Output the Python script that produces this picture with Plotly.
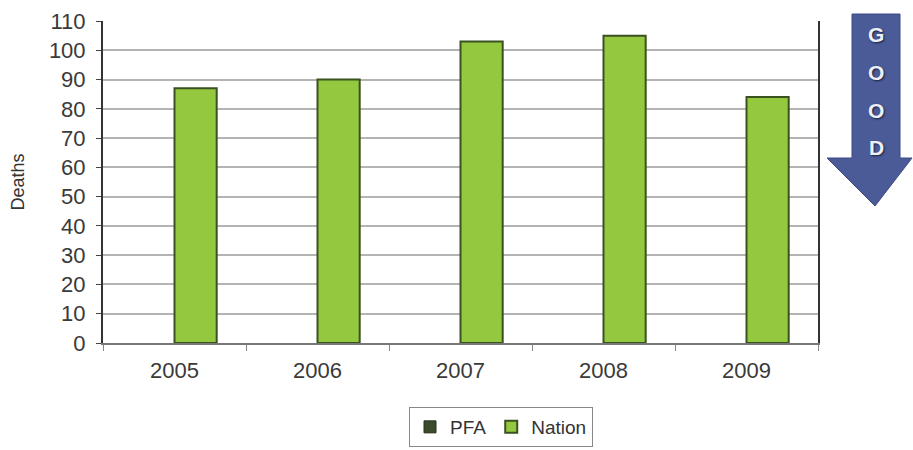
import plotly.graph_objects as go

# Yearly deaths, PFA vs Nation
years = ["2005", "2006", "2007", "2008", "2009"]
nation = [87, 90, 103, 105, 84]
pfa = [None, None, None, None, None]
y_ticks = list(range(0, 111, 10))

W, H = 913, 450
L, R, T, B = 103, 95, 21, 107
pw, ph = W - L - R, H - T - B


def px(x):
    return (x - L) / pw


def py(y):
    return (H - B - y) / ph


fig = go.Figure()
fig.add_trace(go.Bar(
    x=years, y=pfa, name="PFA",
    marker=dict(color="#3a4a2a", line=dict(color="#26321a", width=1)),
))
fig.add_trace(go.Bar(
    x=years, y=nation, name="Nation",
    marker=dict(color="#93c83f", line=dict(color="#3a5220", width=2)),
))

# "GOOD" downward arrow at the right
ax0, ax1 = 852, 900
hx0, hx1, tip_x = 827, 912, 875
top_y, neck_y, tip_y = 14, 158, 206
path = (
    f"M {px(ax0)},{py(top_y)} L {px(ax1)},{py(top_y)} L {px(ax1)},{py(neck_y)} "
    f"L {px(hx1)},{py(neck_y)} L {px(tip_x)},{py(tip_y)} L {px(hx0)},{py(neck_y)} "
    f"L {px(ax0)},{py(neck_y)} Z"
)
fig.add_shape(type="path", path=path, xref="paper", yref="paper",
              fillcolor="#4a5b98", line=dict(color="#3c4a80", width=1), layer="above")

for letter, ly in zip("GOOD", [34, 72, 110, 147]):
    fig.add_annotation(text=f"<b>{letter}</b>", x=px(876), y=py(ly), xref="paper", yref="paper",
                       showarrow=False, xanchor="center", yanchor="middle",
                       font=dict(family="Arial, Liberation Sans", size=21, color="#eef0f8",
                                 shadow="1px 1px 2px #1a1f3a"))

fig.update_layout(
    width=W, height=H,
    margin=dict(l=L, r=R, t=T, b=B, autoexpand=False),
    paper_bgcolor="white", plot_bgcolor="white",
    barmode="group", bargap=0.41, bargroupgap=0,
    font=dict(family="Arial, Liberation Sans", color="#333333"),
    showlegend=True,
    legend=dict(orientation="h", x=px(501), y=py(407), xanchor="center", yanchor="top",
                bordercolor="#888888", borderwidth=1, font=dict(size=19),
                itemwidth=30, tracegroupgap=0),
    xaxis=dict(
        showgrid=False, showline=True, linecolor="#777777", linewidth=2,
        ticks="outside", tickson="boundaries", ticklen=6, tickcolor="#888888",
        ticklabelstandoff=7,
        tickfont=dict(size=22, color="#3a3a3a"), fixedrange=True,
    ),
    yaxis=dict(
        range=[0, 110], tickvals=y_ticks, showgrid=True, gridcolor="#b4b4b4", gridwidth=2,
        showline=True, linecolor="#333333", linewidth=2, mirror=True,
        ticks="outside", ticklen=5, tickcolor="#444444",
        ticklabelstandoff=6,
        tickfont=dict(size=22, color="#3a3a3a"), zeroline=False,
        title=dict(text="Deaths", font=dict(size=18, color="#333333"), standoff=20),
    ),
)

fig.write_html("out.html")
